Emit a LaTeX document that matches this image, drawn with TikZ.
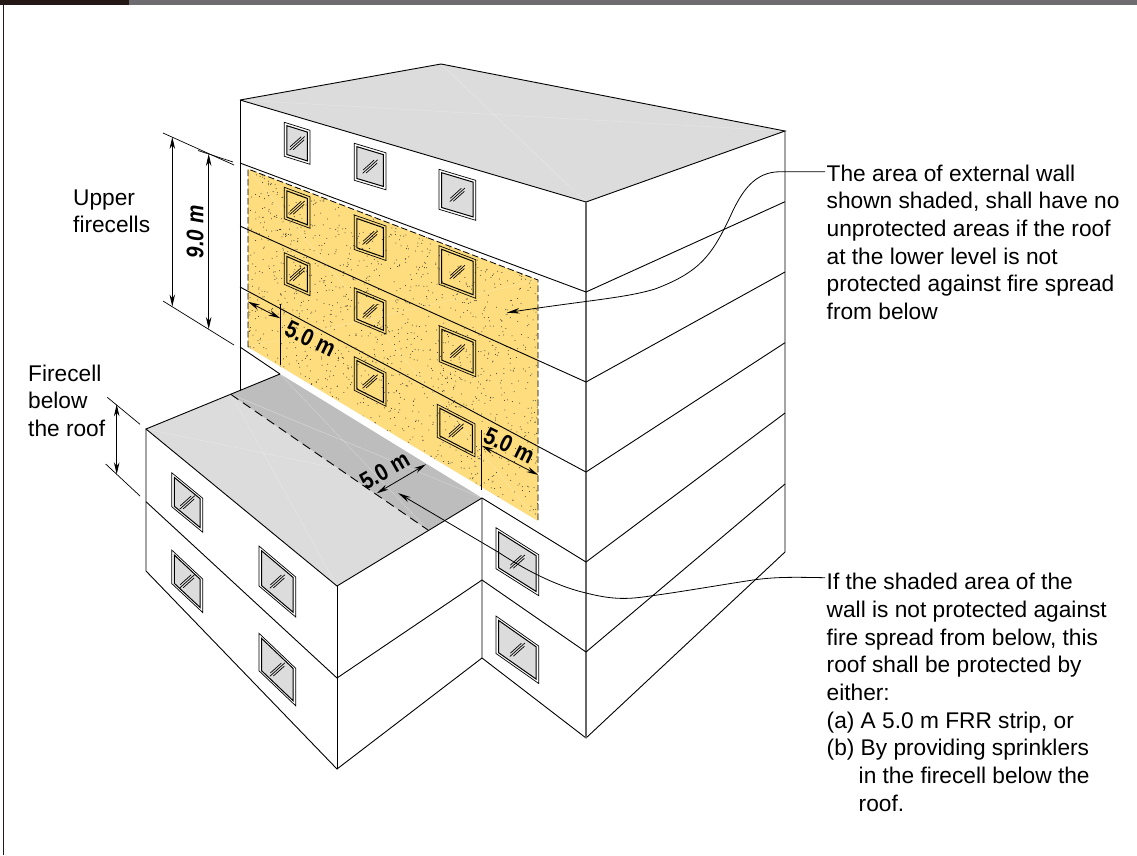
\documentclass[tikz,border=0pt]{standalone}
\usepackage{graphicx}
\usepackage{fontspec}
\setmainfont{Liberation Sans}
\usetikzlibrary{arrows.meta}
\definecolor{roofgray}{HTML}{DCDCDC}
\definecolor{stripgray}{HTML}{BDBDBD}
\definecolor{wallyellow}{HTML}{FEDD7E}
\definecolor{bardark}{HTML}{231815}
\definecolor{barmid}{HTML}{6E6C70}
\tikzset{edge/.style={draw=black, line width=0.9pt},
faint/.style={draw=white, line width=0.3pt, draw opacity=0.4},
leader/.style={draw=black, line width=0.8pt, -{Stealth[length=13pt,width=5.5pt]}},
dim/.style={draw=black, line width=0.8pt, {Stealth[length=12pt,width=5.5pt]}-{Stealth[length=12pt,width=5.5pt]}},
ext/.style={draw=black, line width=0.7pt},
note/.style={anchor=north west, align=left, inner sep=0pt, font=\fontsize{22.7}{27.7}\selectfont},
size/.style={inner sep=0pt, font=\fontsize{24}{24}\selectfont\bfseries}}
%x, y, width, left height, skew, outer fill, inner fill
\newcommand{\winpane}[7]{
\draw[line width=0.7pt, #6] (#1,#2) -- (#1+#3,#2+#5) -- (#1+#3,#2+#5+#4) -- (#1,#2+#4) -- cycle;
\draw[line width=1pt, #7] (#1+2.6,#2+2.6+#5*2.6/#3) -- (#1+#3-2.6,#2+#5-#5*2.6/#3+2.6)
-- (#1+#3-2.6,#2+#5+#4-#5*2.6/#3-2.6) -- (#1+2.6,#2+#4+#5*2.6/#3-2.6) -- cycle;
\foreach \d/\l in {-1.5/5.5,0/7.5,1.5/5.5}
    \draw[line width=0.7pt] (#1+#3/2+\d-\l,#2+#5/2+#4/2+\d+\l*0.9) -- (#1+#3/2+\d+\l,#2+#5/2+#4/2+\d-\l*0.9);
}

\begin{document}
\begin{tikzpicture}[x=1pt,y=-1pt]
\useasboundingbox (0,0) rectangle (1137,855);

\fill[barmid] (129,0) rectangle (1137,5);
\fill[bardark] (0,0) rectangle (129,5);
\draw[bardark, line width=1.3pt] (3.7,5) -- (3.7,855);

\coordinate (back) at (441,64);
\coordinate (left) at (240,100);
\coordinate (right) at (785,131);
\coordinate (front) at (586,202);
\coordinate (base) at (586,738);
\coordinate (rightbase) at (785,552);
\coordinate (yA) at (248,169);
\coordinate (yB) at (538,280);
\coordinate (yC) at (538,521);
\coordinate (yD) at (248,347);
\coordinate (lowleft) at (146,429);
\coordinate (lowback) at (280,374);
\coordinate (lowright) at (482,498);
\coordinate (lowfront) at (337,586);
\coordinate (stripA) at (231,394.5);
\coordinate (stripB) at (428,530);

%roofs
\fill[roofgray] (left) -- (back) -- (right) -- (front) -- cycle;
\draw[faint] (back) -- (front) (left) -- (right);
\fill[roofgray] (lowleft) -- (lowback) -- (lowright) -- (lowfront) -- cycle;
\draw[faint] (lowleft) -- (lowright) (stripA) -- (lowfront);
\fill[stripgray] (stripA) -- (lowback) -- (lowright) -- (stripB) -- cycle;
\draw[faint] (stripA) -- (lowright) (lowback) -- (stripB) (240,398) -- (lowright);

%shaded wall
\fill[wallyellow] (yA) -- (yB) -- (yC) -- (yD) -- cycle;
\draw[faint] (yA) -- (yC) (yB) -- (yD);
\begin{scope}
\clip (yA) -- (yB) -- (yC) -- (yD) -- cycle;
\pgfmathsetseed{21}
\foreach \k in {1,...,1300}{
    \pgfmathsetmacro{\du}{rnd}
    \pgfmathsetmacro{\dv}{rnd}
    \fill[black!80] (248+290*\du,169+111*\du+178*\dv+63*\du*\dv) circle (0.5);
}
\end{scope}
\draw[edge, line width=0.8pt, dash pattern=on 6.5pt off 3pt] (yD) -- (yA) -- (yB) -- (yC);

%windows
\foreach \wx/\wy/\ww/\wh/\ws in {284.3/122.3/25.7/34/8, 354.3/143.3/31.7/37/9.5, 439/169.3/36.7/40/11,
496/527.7/42.7/41/27, 496/616/42.7/37.5/30, 171.7/472.7/31/34/25.5,
171.7/550/31/33.5/29, 259/546/36.7/40/31, 259/633.3/36.7/37.5/35}
    \winpane{\wx}{\wy}{\ww}{\wh}{\ws}{fill=white}{fill=roofgray};

\foreach \wx/\wy/\ww/\wh/\ws in {284.3/187.3/25.7/31.5/9.5, 354.3/215/31.7/34.5/11, 439/245.7/36.7/38.6/14,
284.3/252.7/25.7/31.7/11.3, 354.3/287.7/31.7/33/13.3, 439.3/325.7/36.4/36/15,
354.3/356.7/31.7/33.6/16, 437.3/404.3/37.7/33/19.5}
    \winpane{\wx}{\wy}{\ww}{\wh}{\ws}{}{};

%main block
\draw[edge] (left) -- (back) -- (right) -- (front) -- (left);
\draw[edge] (left) -- (240,390.5);
\draw[edge] (right) -- (rightbase) -- (base) -- (482,658) -- (lowright);
\draw[edge, draw=black!60, line width=1.1pt] (front) -- (base);

\foreach \a/\b/\c in {240/163/292, 240/226/382, 240/287/472}
    \draw[edge] (\a,\b) -- (586,\c);
\foreach \c/\d in {292/201.7, 382/272, 472/342.7, 562/413, 652/484}
    \draw[edge] (586,\c) -- (785,\d);
\draw[edge] (240,347) -- (lowback);
\draw[edge] (lowright) -- (586,562);
\draw[edge] (482,580) -- (586,652);

%lower block
\draw[edge] (lowback) -- (lowleft) -- (lowfront) -- (lowright);
\draw[edge] (lowleft) -- (146,571) -- (337,769) -- (482,658);
\draw[edge] (lowfront) -- (337,769);
\draw[edge] (146,501.7) -- (337,678) -- (482,580);
\draw[edge, dash pattern=on 9pt off 5.5pt] (stripA) -- (stripB);

%dimensions
\draw[ext] (163,133) -- (234,165);
\draw[ext] (198,150.5) -- (233,162);
\draw[ext] (163,301) -- (234,345);
\draw[dim] (172.3,137) -- (172.3,306.5);
\draw[dim] (208.7,154) -- (208.7,329);
\node[size, font=\fontsize{24}{24}\selectfont\bfseries\itshape, rotate=90] (nine) at (195,232) {\scalebox{0.86}[1]{9.0 m}};

\draw[ext] (107.3,397.3) -- (140,424.3);
\draw[ext] (105.7,464) -- (140,496);
\draw[dim] (116.7,404.3) -- (116.7,474.3);

\draw[ext] (280.3,304) -- (280.3,365);
\draw[dim] (248,301.7) -- (280.3,318.3);
\node[size, rotate=-26] (fiveA) at (310.5,339) {\scalebox{0.86}[1]{5.0 m}};

\draw[ext] (481.7,430) -- (481.7,490);
\draw[dim] (481.7,445.7) -- (538.3,475);
\node[size, rotate=-26] (fiveB) at (509.3,445.5) {\scalebox{0.86}[1]{5.0 m}};

\draw[dim] (376.7,493.3) -- (426,464.3);
\node[size, rotate=30] (fiveC) at (384.5,470.5) {\scalebox{0.86}[1]{5.0 m}};

%labels
\node[note] (upper) at (73,189.2) {Upper\\firecells};
\node[note] (below) at (28,364.4) {Firecell\\below\\the roof};
\node[note] (area) at (826.5,164.4) {The area of external wall\\shown shaded, shall have no\\unprotected areas if the roof\\at the lower level is not\\protected against fire spread\\from below};
\node[note] (sprinkler) at (826.5,573) {If the shaded area of the\\wall is not protected against\\fire spread from below, this\\roof shall be protected by\\either:\\(a) A 5.0 m FRR strip, or\\(b) By providing sprinklers\\\hspace*{32pt}in the firecell below the\\\hspace*{32pt}roof.};

%leaders
\coordinate (areatip) at (506.7,312.7);
\coordinate (rooftip) at (398,493);
\draw[leader] (825,171.7) -- (780,171.7) .. controls (755,172) and (742,190) .. (730,217)
.. controls (712,255) and (700,272) .. (655,289) .. controls (625,298) and (590,300) .. (areatip);
\draw[leader] (825,577.7) .. controls (790,577) and (775,577) .. (753,580) .. controls (720,585) and (680,592) .. (650,596)
.. controls (625,600) and (610,599) .. (586,593) .. controls (560,587) and (530,573) .. (498,552) -- (rooftip);

\end{tikzpicture}
\end{document}
